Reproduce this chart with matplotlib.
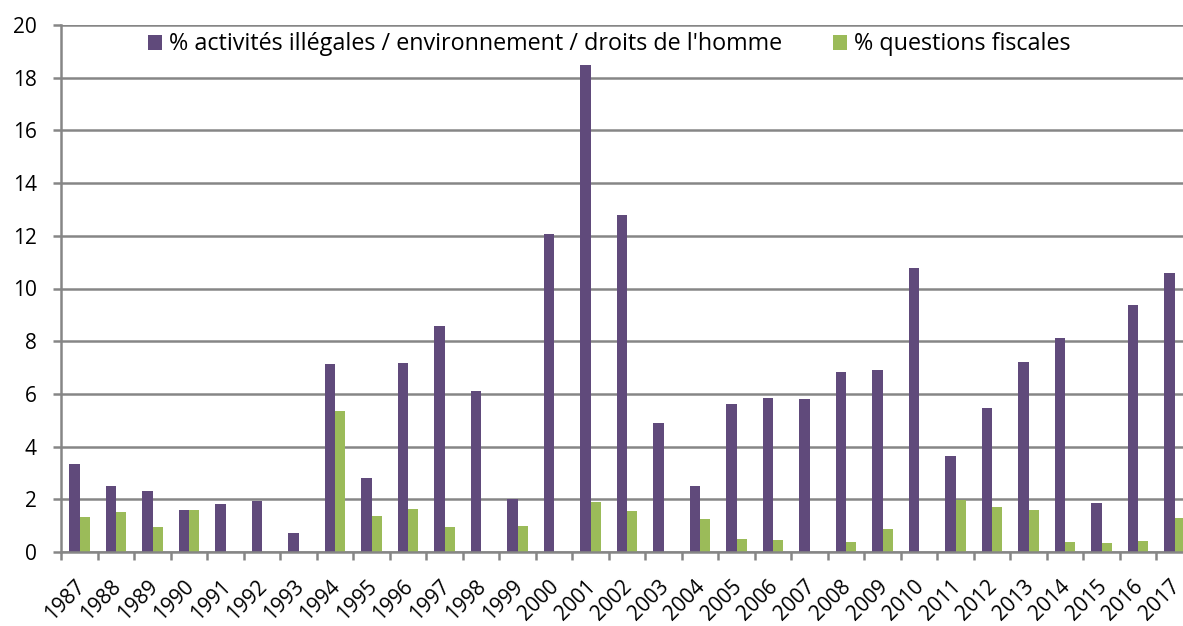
import numpy as np
import matplotlib.pyplot as plt

years = list(range(1987, 2018))
illegal = [3.33, 2.52, 2.31, 1.61, 1.82, 1.95, 0.74, 7.15, 2.80, 7.17, 8.57, 6.10,
           2.03, 12.07, 18.48, 12.79, 4.88, 2.51, 5.62, 5.84, 5.81, 6.84, 6.89, 10.77,
           3.66, 5.47, 7.20, 8.13, 1.85, 9.37, 10.57]
fiscal = [1.31, 1.51, 0.96, 1.61, 0, 0, 0, 5.37, 1.38, 1.62, 0.93, 0,
          1.00, 0, 1.89, 1.57, 0, 1.24, 0.48, 0.46, 0, 0.37, 0.89, 0,
          1.96, 1.70, 1.58, 0.37, 0.36, 0.41, 1.29]
labels = ["% activités illégales / environnement / droits de l'homme", "% questions fiscales"]

purple = '#604A7B'
green = '#9BBB59'
grey = '#868686'

plt.rcParams['font.family'] = ['Open Sans', 'DejaVu Sans']

fig = plt.figure(figsize=(11.83, 6.26), dpi=100)
# plot area runs past the right edge, as in the reference
ax = fig.add_axes([61.3/1183, 1 - 552/626, 1131.5/1183, 527/626])

x = np.arange(len(years))
w = 0.28
ax.bar(x - w/2, illegal, w, color=purple, label=labels[0])
ax.bar(x + w/2, fiscal, w, color=green, label=labels[1])

ax.set_xlim(-0.5, len(years) - 0.5)
ax.set_ylim(0, 20)
ax.set_yticks(range(0, 21, 2))
ax.yaxis.grid(True, color=grey, linewidth=1.8)
ax.set_axisbelow(True)

# labels sit a little left of the category centre, tick marks at the boundaries
ax.set_xticks(x - 0.15)
ax.set_xticklabels([str(y) for y in years], rotation=45, ha='right',
                   rotation_mode='anchor', fontsize=15)
ax.set_xticks(np.arange(-0.5, len(years)), minor=True)
ax.tick_params(axis='x', which='major', length=0, pad=17)
ax.tick_params(axis='x', which='minor', length=5.8, width=1.8, color=grey)
ax.tick_params(axis='y', length=5.8, width=1.8, color=grey, labelsize=15, pad=12)

for s in ['top', 'right']:
    ax.spines[s].set_visible(False)
for s in ['left', 'bottom']:
    ax.spines[s].set_color(grey)
    ax.spines[s].set_linewidth(1.8)

leg = ax.legend(loc='upper left', bbox_to_anchor=(0.066, 1.008), ncol=2, frameon=False,
                fontsize=16.8, handlelength=0.6, handleheight=0.6, handletextpad=0.3,
                columnspacing=2.2, borderaxespad=0.1)

fig.savefig('out.png', dpi=100)
